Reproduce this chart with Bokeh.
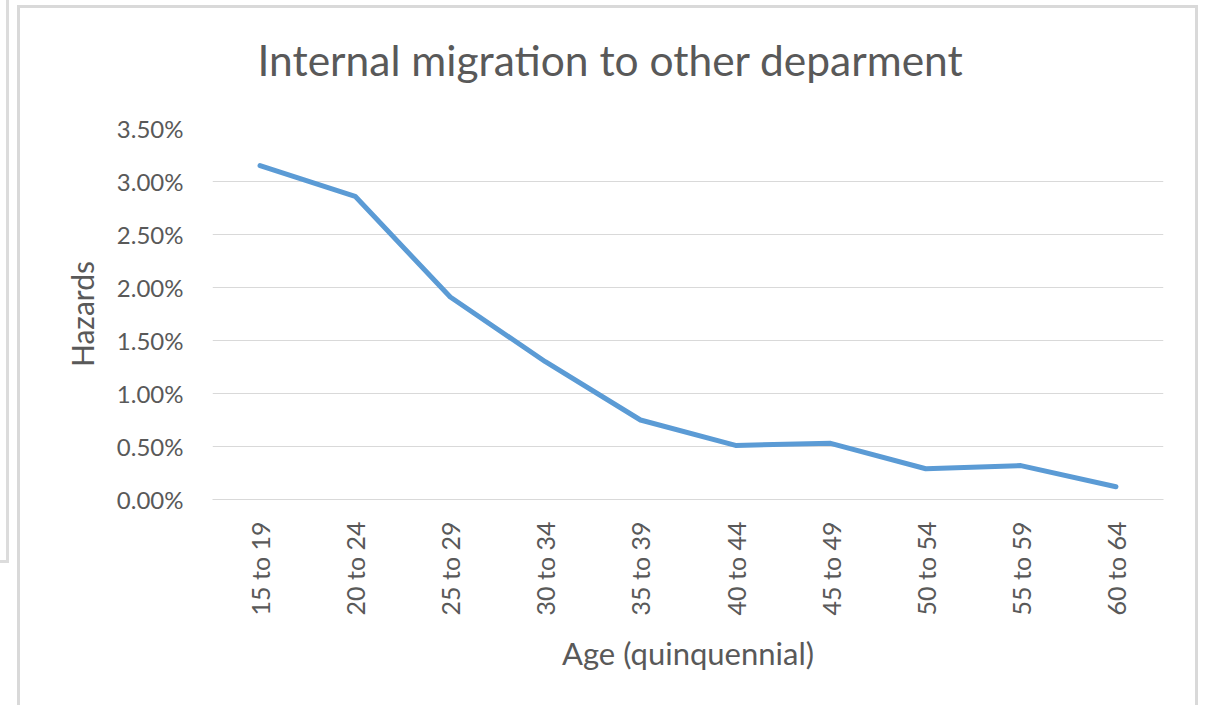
import math
from bokeh.plotting import figure
from bokeh.models import Range1d, NumeralTickFormatter, FixedTicker, Title
from bokeh.embed import file_html
from bokeh.resources import INLINE

# Data
categories = ["15 to 19", "20 to 24", "25 to 29", "30 to 34", "35 to 39",
              "40 to 44", "45 to 49", "50 to 54", "55 to 59", "60 to 64"]
hazards = [0.0315, 0.0286, 0.0191, 0.0130, 0.0075,
           0.0051, 0.0053, 0.0029, 0.0032, 0.0012]
y_ticks = [0.0, 0.005, 0.010, 0.015, 0.020, 0.025, 0.030, 0.035]
title_text = "Internal migration to other deparment"

FONT = "Lato"
TXT = "#595959"
GRID = "#d9d9d9"

p = figure(width=1181, height=700, x_range=categories, y_range=Range1d(0, 0.035),
           output_backend="svg", toolbar_location=None,
           min_border_left=192, min_border_right=38,
           min_border_top=120, min_border_bottom=209)

p.styles = {
    "border-left": f"3px solid {GRID}",
    "border-top": f"3px solid {GRID}",
    "border-right": f"3px solid {GRID}",
    "margin-left": "17px",
    "margin-top": "5px",
    "box-shadow": "-1192px -145px 0 0 #ffffff, -1189px -142px 0 0 #dcdcdc",
}

p.outline_line_color = None
p.background_fill_color = "white"
p.border_fill_color = "white"

# spacer between the title and the plot frame, then the title itself
p.add_layout(Title(text=" ", text_font_size="2px", standoff=35), "above")
p.add_layout(Title(text=title_text, text_font=FONT, text_font_size="42.5px",
                   text_font_style="normal", text_color=TXT, align="left",
                   offset=45, standoff=10), "above")

p.line(x=categories, y=hazards, line_color="#5b9bd5", line_width=5,
       line_cap="round", line_join="round")

# Y axis
ya = p.yaxis[0]
ya.ticker = FixedTicker(ticks=y_ticks)
ya.formatter = NumeralTickFormatter(format="0.00%")
ya.axis_label = "Hazards"
ya.axis_label_text_font = FONT
ya.axis_label_text_font_size = "30px"
ya.axis_label_text_font_style = "normal"
ya.axis_label_text_color = TXT
ya.axis_label_standoff = 14
ya.major_label_text_font = FONT
ya.major_label_text_font_size = "24px"
ya.major_label_text_color = TXT
ya.major_label_standoff = 29
ya.axis_line_color = None
ya.major_tick_line_color = None
ya.minor_tick_line_color = None
ya.major_tick_out = 0
ya.major_tick_in = 0

# X axis
xa = p.xaxis[0]
xa.axis_label = "Age (quinquennial)"
xa.axis_label_text_font = FONT
xa.axis_label_text_font_size = "31px"
xa.axis_label_text_font_style = "normal"
xa.axis_label_text_color = TXT
xa.axis_label_standoff = 16
xa.major_label_text_font = FONT
xa.major_label_text_font_size = "25px"
xa.major_label_text_color = TXT
xa.major_label_orientation = math.pi / 2
xa.major_label_standoff = 22
xa.axis_line_color = GRID
xa.major_tick_line_color = None
xa.major_tick_out = 0
xa.major_tick_in = 0

p.xgrid.grid_line_color = None
p.ygrid.grid_line_color = GRID
p.ygrid.grid_line_width = 1

open("out.html", "w").write(file_html(p, INLINE))
